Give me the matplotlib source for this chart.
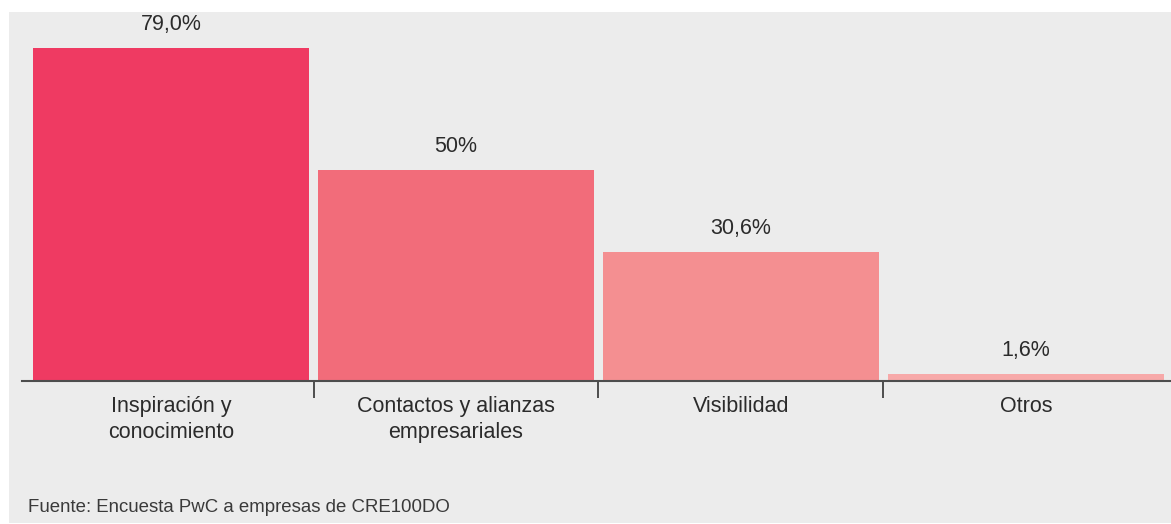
import matplotlib
matplotlib.use("Agg")
import matplotlib.pyplot as plt
from matplotlib.patches import Rectangle

categories = ["Inspiración y\nconocimiento", "Contactos y alianzas\nempresariales", "Visibilidad", "Otros"]
values = [79.0, 50.0, 30.6, 1.6]
value_labels = ["79,0%", "50%", "30,6%", "1,6%"]
colors = ["#ef3a62", "#f26c7a", "#f48f91", "#f7a9a9"]
source = "Fuente: Encuesta PwC a empresas de CRE100DO"

W, H = 1171, 524
plt.rcParams["font.family"] = ["Liberation Sans", "DejaVu Sans"]
fig = plt.figure(figsize=(W / 100, H / 100), dpi=100)
fig.patch.set_facecolor("white")

# gray panel
fig.patches.append(Rectangle((9 / W, 1 - 523 / H), (W - 9) / W, (523 - 12) / H,
                             transform=fig.transFigure, facecolor="#ececec",
                             edgecolor="none", zorder=-10))

ax = fig.add_axes([22 / W, (H - 381) / H, (W - 22) / W, (381 - 12) / H])
ax.set_zorder(1)
ax.set_facecolor("none")
x = list(range(len(values)))
bars = ax.bar(x, values, width=0.968, color=colors, zorder=2)
ax.set_xlim(-0.523, 3.509)
ax.set_ylim(0, 369 / 4.22)

for s in ["top", "right", "left"]:
    ax.spines[s].set_visible(False)
ax.spines["bottom"].set_color("#4d4d4d")
ax.spines["bottom"].set_linewidth(1.5)
ax.set_yticks([])
ax.set_xticks([0.5, 1.5, 2.5])
ax.set_xticklabels([])
ax.tick_params(axis="x", length=12, width=1.2, color="#333333", direction="out")

txt = "#2b2b2b"
for xi, v, lab in zip(x, values, value_labels):
    ax.annotate(lab, (xi, v), xytext=(0, 13), textcoords="offset points",
                ha="center", va="baseline", fontsize=15.5, color=txt)

for xi, lab in zip(x, categories):
    ax.annotate(lab, (xi, 0), xytext=(0, -11), textcoords="offset points",
                ha="center", va="top", fontsize=15.5, color=txt, linespacing=1.32)

fig.text(28 / W, 1 - 512 / H, source, ha="left", va="baseline", fontsize=13.4, color="#3a3a3a")

fig.savefig("out.png", dpi=100, facecolor=fig.get_facecolor())
